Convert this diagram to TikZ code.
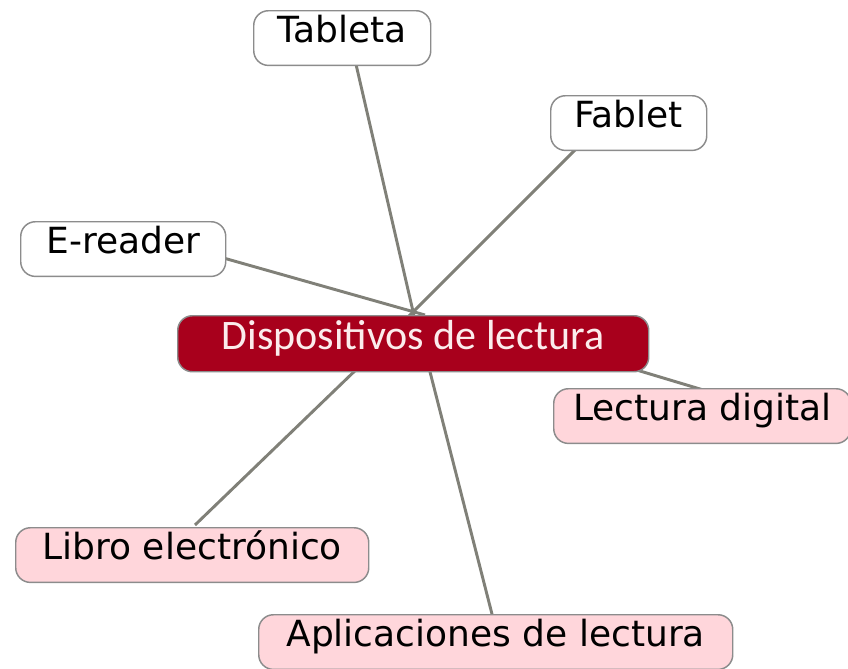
\documentclass[tikz,border=0pt]{standalone}
\usepackage{fontspec}
\setmainfont{DejaVu Sans}
\newfontfamily\hubfont{Carlito}
\definecolor{hubred}{HTML}{A8001C}
\definecolor{hubtext}{HTML}{FBECEC}
\definecolor{leafpink}{HTML}{FFD6DB}
\definecolor{edgegrey}{HTML}{808078}
\definecolor{boxgrey}{HTML}{8C8C8C}
\begin{document}
\begin{tikzpicture}[x=0.75pt,y=-0.75pt,
  leaf/.style={draw=boxgrey,line width=1.1pt,rounded corners=11pt,fill=white,
    anchor=north west,inner xsep=0pt,inner ysep=0pt,
    text height=24pt,text depth=17pt,font=\fontsize{27}{30}\selectfont},
  pinkleaf/.style={leaf,fill=leafpink},
  hub/.style={draw=boxgrey,line width=1.1pt,rounded corners=11pt,fill=hubred,
    text=hubtext,anchor=north west,inner xsep=0pt,inner ysep=0pt,
    text height=25pt,text depth=17pt,font=\hubfont\fontsize{31.5}{34}\selectfont},
  link/.style={draw=edgegrey,line width=2.2pt}]
\useasboundingbox (0,0) rectangle (848,668);
% connector end points
\coordinate (tabA) at (355,60);
\coordinate (tabB) at (415,320);
\coordinate (fabA) at (580,145);
\coordinate (fabB) at (405,320);
\coordinate (ereA) at (220,257);
\coordinate (ereB) at (425,315);
\coordinate (libA) at (195,525);
\coordinate (libB) at (362,364);
\coordinate (apA) at (493,618);
\coordinate (apB) at (428,364);
\coordinate (ldA) at (630,368);
\coordinate (ldB) at (710,392);
\draw[link] (tabA) -- (tabB);
\draw[link] (fabA) -- (fabB);
\draw[link] (ereA) -- (ereB);
\draw[link] (libA) -- (libB);
\draw[link] (apA) -- (apB);
\draw[link] (ldA) -- (ldB);
% nodes
\node[leaf,minimum width=177*0.75pt] (tab) at (253,10) {Tableta};
\node[leaf,minimum width=156*0.75pt] (fab) at (550,95) {Fablet};
\node[leaf,minimum width=205*0.75pt] (ere) at (20,221) {E-reader};
\node[hub,minimum width=471*0.75pt] (hub) at (177,315) {Dispositivos de lectura};
\node[pinkleaf,minimum width=297*0.75pt] (ld) at (553,388) {Lectura digital};
\node[pinkleaf,minimum width=353*0.75pt] (lib) at (15,527) {Libro electrónico};
\node[pinkleaf,minimum width=474*0.75pt] (ap) at (258,614) {Aplicaciones de lectura};
\end{tikzpicture}
\end{document}
